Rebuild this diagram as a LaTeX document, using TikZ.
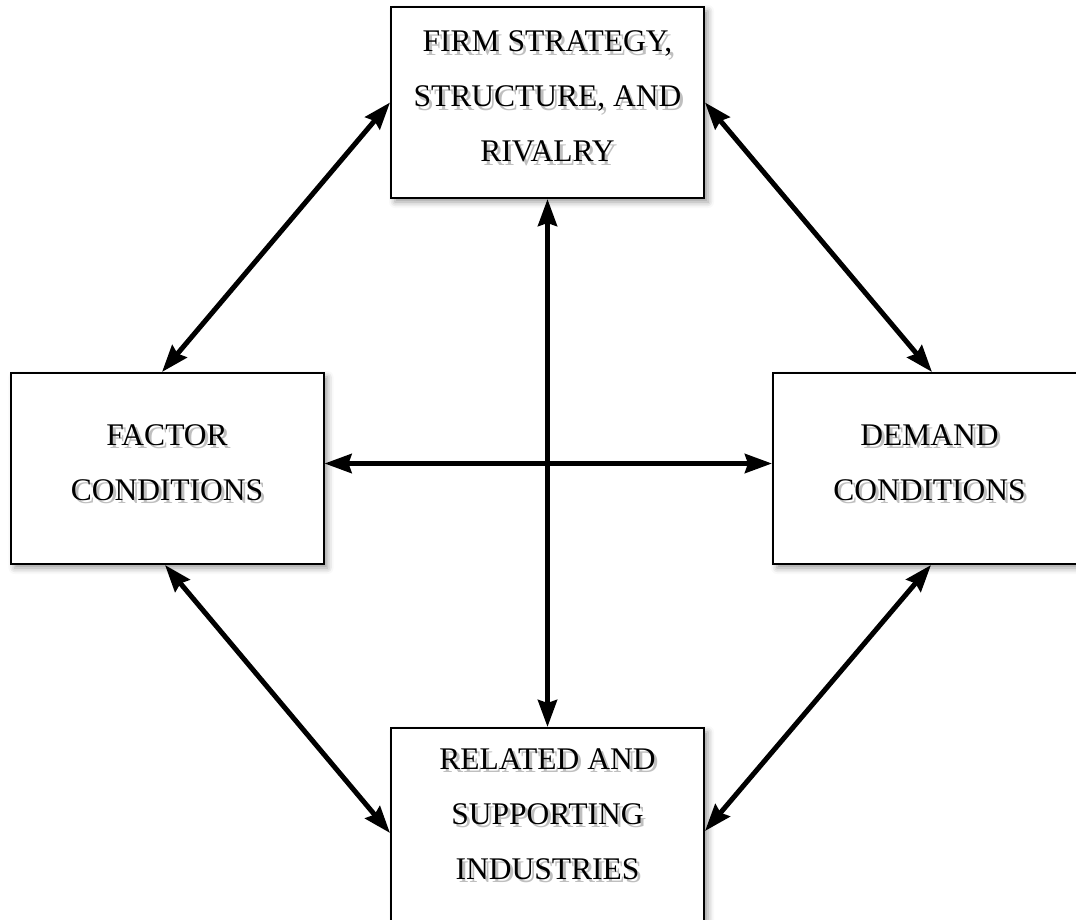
\documentclass[tikz,border=0pt]{standalone}
\usepackage{fontspec}
\setmainfont{Liberation Serif}
\usetikzlibrary{arrows.meta,shadows.blur}
\newcommand\tabtxt[1]{\begin{tabular}{@{}c@{}}#1\end{tabular}}
\newcommand\shtxt[2][7pt]{\raisebox{#1}[\height][\depth]{\leavevmode
  \rlap{\smash{\hspace*{3pt}\raisebox{-3.5pt}{\color{black!25}\tabtxt{#2}}}}%
  \tabtxt{#2}}}
\begin{document}
\begin{tikzpicture}[x=1pt,y=-1pt,
  box/.style={draw=black, line width=2pt, fill=white, minimum width=313pt,
    minimum height=191pt, inner sep=0pt, font=\fontsize{31.5}{55}\selectfont,
    blur shadow={shadow xshift=4pt,shadow yshift=-4pt,shadow blur radius=6pt,shadow opacity=40}},
  arr/.style={line width=5pt, {Stealth[length=27pt,width=19pt,inset=3pt]}-{Stealth[length=27pt,width=19pt,inset=3pt]}}]
\useasboundingbox (0,0) rectangle (1076,919);
\node[box] (top) at (547.5,102.5) {\shtxt{FIRM STRATEGY,\\STRUCTURE, AND\\RIVALRY}};
\node[box] (left) at (167,468.5) {\shtxt{FACTOR\\CONDITIONS}};
\node[box] (right) at (929.5,468.5) {\shtxt{DEMAND\\CONDITIONS}};
\node[box, minimum height=200pt] (bottom) at (547.5,828) {\shtxt[15pt]{RELATED AND\\SUPPORTING\\INDUSTRIES}};
\draw[arr] ([xshift=-5pt]left.north) -- (top.west);
\draw[arr] (top.east) -- ([xshift=2.5pt]right.north);
\draw[arr] ([xshift=-2pt]left.south) -- ([yshift=-5pt]bottom.west);
\draw[arr] ([xshift=1.5pt]right.south) -- ([yshift=-3pt]bottom.east);
\draw[arr] ([yshift=5pt]left.east) -- ([yshift=5pt]right.west);
\draw[arr] (top.south) -- (bottom.north);
\end{tikzpicture}
\end{document}
